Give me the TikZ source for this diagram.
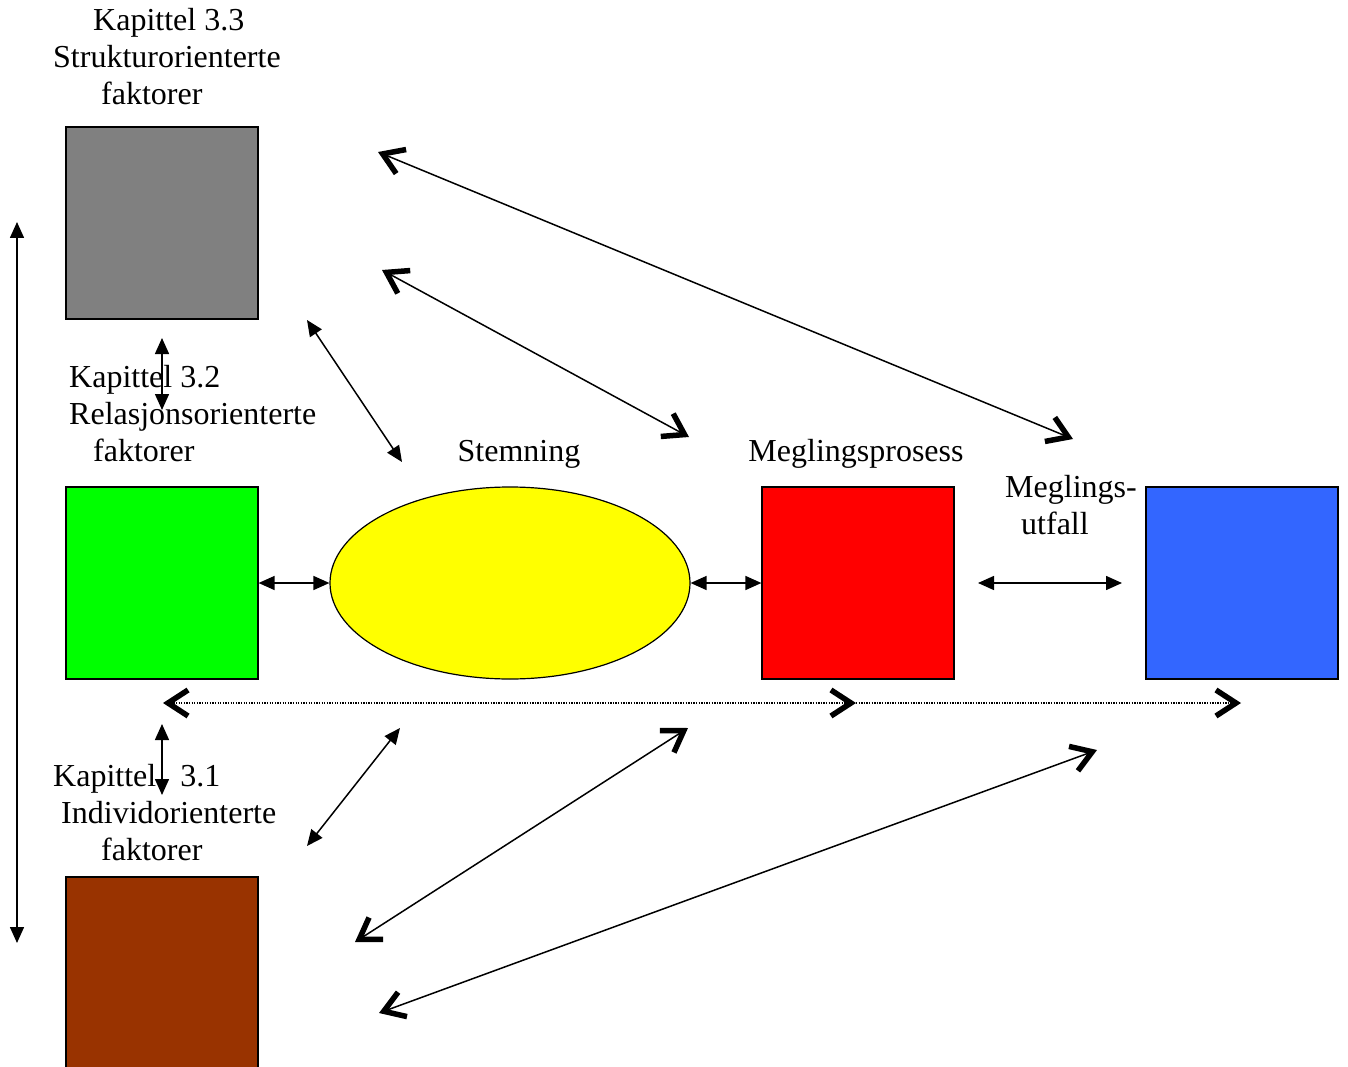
\documentclass[tikz,border=0pt]{standalone}
\usepackage{fontspec}
\setmainfont{Liberation Serif}
\usetikzlibrary{arrows.meta,shapes.geometric}

\begin{document}
\begin{tikzpicture}[x=1pt, y=-1pt,
	box/.style = {draw, line width=1.2pt, minimum size=192pt, inner sep=0pt},
	txt/.style = {font=\fontsize{32}{37}\selectfont, inner sep=0pt},
	tri/.style = {{Triangle[length=16pt,width=14pt]}-{Triangle[length=16pt,width=14pt]}, line width=1.5pt},
	barbs/.style = {{Straight Barb[length=20pt,width=26pt,line width=5.5pt 0]}-{Straight Barb[length=20pt,width=26pt,line width=5.5pt 0]}, line width=1.5pt},
	dots/.style = {line width=1.3pt, dash pattern=on 1.3pt off 1.3pt}]
		\useasboundingbox (0,0) rectangle (1348,1067);
		% boxes
		\node[box, fill={rgb,255:red,128;green,128;blue,128}] (s) at (162,223) {};
		\node[box, fill={rgb,255:red,0;green,255;blue,0}] (r) at (162,583) {};
		\node[box, fill={rgb,255:red,153;green,51;blue,0}] (i) at (162,973) {};
		\node[draw, ellipse, line width=1.2pt, minimum width=360pt, minimum height=192pt, fill={rgb,255:red,255;green,255;blue,0}] (e) at (510,583) {};
		\node[box, fill={rgb,255:red,255;green,0;blue,0}] (p) at (858,583) {};
		\node[box, fill={rgb,255:red,51;green,102;blue,255}] (u) at (1242,583) {};
		% labels
		\node[txt, align=left, anchor=base west] (ls) at (53,105) {\hspace*{40pt}Kapittel 3.3\\Strukturorienterte\\\hspace*{48pt}faktorer};
		\node[txt, align=left, anchor=base west] (lr) at (69,461) {Kapittel 3.2\\Relasjonsorienterte\\\hspace*{24pt}faktorer};
		\node[txt, align=left, anchor=base west] (li) at (53,860) {Kapittel\hspace*{24pt}3.1\\\hspace*{8pt}Individorienterte\\\hspace*{48pt}faktorer};
		\node[txt, anchor=base] (le) at (519,461) {Stemning};
		\node[txt, anchor=base] (lp) at (856,461) {Meglingsprosess};
		\node[txt, align=left, anchor=base west] (lu) at (1005,534) {Meglings-\\\hspace*{16pt}utfall};
		% free ends
		\coordinate (v1) at (17,222);
		\coordinate (v2) at (17,943);
		\coordinate (sr1) at (162,338);
		\coordinate (sr2) at (162,410);
		\coordinate (ri1) at (162,724);
		\coordinate (ri2) at (162,795);
		\coordinate (pu1) at (978,583);
		\coordinate (pu2) at (1122,583);
		\coordinate (se1) at (307,320);
		\coordinate (se2) at (402,462);
		\coordinate (ie1) at (400,728);
		\coordinate (ie2) at (307,846);
		\coordinate (su1) at (378,152);
		\coordinate (su2) at (1073,439);
		\coordinate (sp1) at (382,270);
		\coordinate (sp2) at (689,437);
		\coordinate (ip1) at (355,942);
		\coordinate (ip2) at (688,728);
		\coordinate (iu1) at (379,1013);
		\coordinate (iu2) at (1097,750);
		\coordinate (d1) at (163,703);
		\coordinate (d2) at (856,703);
		\coordinate (d3) at (1241,703);
		% connectors
		\draw[tri] (v1) -- (v2);
		\draw[tri] (sr1) -- (sr2);
		\draw[tri] (ri1) -- (ri2);
		\draw[tri] (r) -- (e);
		\draw[tri] (e) -- (p);
		\draw[tri] (pu1) -- (pu2);
		\draw[tri] (se1) -- (se2);
		\draw[tri] (ie1) -- (ie2);
		\draw[barbs] (su1) -- (su2);
		\draw[barbs] (sp1) -- (sp2);
		\draw[barbs] (ip1) -- (ip2);
		\draw[barbs] (iu1) -- (iu2);
		\draw[barbs, dots] (d1) -- (d2);
		\draw[dots, -{Straight Barb[length=20pt,width=26pt,line width=5.5pt 0]}] (d2) -- (d3);
	\end{tikzpicture}
\end{document}
